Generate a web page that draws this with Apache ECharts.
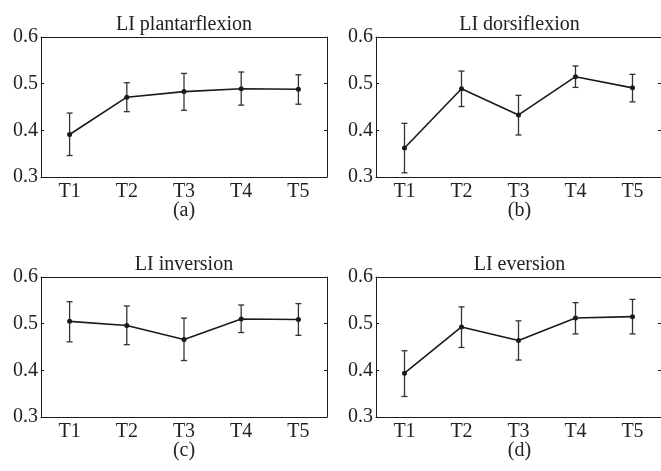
<!DOCTYPE html>
<html>
<head>
<meta charset="utf-8">
<script src="https://cdn.jsdelivr.net/npm/echarts@6/dist/echarts.min.js"></script>
<style>
    html, body { margin: 0; padding: 0; background: #fff; }
    #chart { width: 661px; height: 471px; }
</style>
</head>
<body>
<div id="chart"></div>
<script>
    // data
    const categories = ['T1', 'T2', 'T3', 'T4', 'T5'];
    const titles = ['LI plantarflexion', 'LI dorsiflexion', 'LI inversion', 'LI eversion'];
    const captions = ['(a)', '(b)', '(c)', '(d)'];

    const plantarMean = [0.391, 0.471, 0.483, 0.489, 0.488];
    const plantarLow = [0.346, 0.440, 0.443, 0.454, 0.456];
    const plantarHigh = [0.437, 0.502, 0.522, 0.525, 0.519];

    const dorsiMean = [0.362, 0.489, 0.433, 0.515, 0.491];
    const dorsiLow = [0.309, 0.451, 0.390, 0.492, 0.461];
    const dorsiHigh = [0.415, 0.527, 0.475, 0.538, 0.520];

    const inverMean = [0.505, 0.496, 0.466, 0.510, 0.509];
    const inverLow = [0.461, 0.455, 0.421, 0.481, 0.475];
    const inverHigh = [0.547, 0.538, 0.512, 0.540, 0.543];

    const everMean = [0.394, 0.493, 0.464, 0.512, 0.515];
    const everLow = [0.344, 0.449, 0.422, 0.478, 0.478];
    const everHigh = [0.442, 0.536, 0.506, 0.545, 0.552];

    const panels = [
        {mean: plantarMean, low: plantarLow, high: plantarHigh},
        {mean: dorsiMean, low: dorsiLow, high: dorsiHigh},
        {mean: inverMean, low: inverLow, high: inverHigh},
        {mean: everMean, low: everLow, high: everHigh}
    ];

    // layout of the four boxes
    const boxes = [
        {left: 41, top: 37, width: 286, height: 140},
        {left: 376, top: 37, width: 287, height: 140},
        {left: 41, top: 277, width: 286, height: 140},
        {left: 376, top: 277, width: 287, height: 140}
    ];

    const FONT = 'Liberation Serif';
    const INK = '#1a1a1a';

    const chart = echarts.init(document.getElementById('chart'));

    const grid = [], xAxis = [], yAxis = [], series = [], graphic = [];

    boxes.forEach(function (b, i) {
        grid.push({left: b.left, top: b.top, width: b.width, height: b.height, containLabel: false});

        // bottom + top x axes
        xAxis.push({
            type: 'category', gridIndex: i, data: categories, position: 'bottom',
            axisLine: {lineStyle: {color: INK, width: 1}},
            axisTick: {inside: true, length: 3, alignWithLabel: true, lineStyle: {color: INK}},
            axisLabel: {fontFamily: FONT, fontSize: 20, color: '#222', margin: 5}
        });
        xAxis.push({
            type: 'category', gridIndex: i, data: categories, position: 'top',
            axisLine: {lineStyle: {color: INK, width: 1}},
            axisTick: {inside: true, length: 3, alignWithLabel: true, lineStyle: {color: INK}},
            axisLabel: {show: false}
        });

        // left + right y axes
        yAxis.push({
            type: 'value', gridIndex: i, position: 'left', min: 0.3, max: 0.6, interval: 0.1,
            splitLine: {show: false},
            axisLine: {show: true, lineStyle: {color: INK, width: 1}},
            axisTick: {show: true, inside: true, length: 3, lineStyle: {color: INK}},
            axisLabel: {
                fontFamily: FONT, fontSize: 20, color: '#222', margin: 3,
                formatter: function (v) { return v.toFixed(1); }
            }
        });
        yAxis.push({
            type: 'value', gridIndex: i, position: 'right', min: 0.3, max: 0.6, interval: 0.1,
            splitLine: {show: false},
            axisLine: {show: true, lineStyle: {color: INK, width: 1}},
            axisTick: {show: true, inside: true, length: 3, lineStyle: {color: INK}},
            axisLabel: {show: false}
        });

        const p = panels[i];

        // error bars
        series.push({
            type: 'custom',
            xAxisIndex: i * 2,
            yAxisIndex: i * 2,
            data: categories.map(function (c, k) { return [k, p.low[k], p.high[k]]; }),
            encode: {x: 0, y: [1, 2]},
            z: 2,
            renderItem: function (params, api) {
                const lo = api.coord([api.value(0), api.value(1)]);
                const hi = api.coord([api.value(0), api.value(2)]);
                const w = 3;
                const st = {stroke: '#333', lineWidth: 1.3};
                return {
                    type: 'group',
                    children: [
                        {type: 'line', shape: {x1: lo[0], y1: lo[1], x2: hi[0], y2: hi[1]}, style: st},
                        {type: 'line', shape: {x1: lo[0] - w, y1: lo[1], x2: lo[0] + w, y2: lo[1]}, style: st},
                        {type: 'line', shape: {x1: hi[0] - w, y1: hi[1], x2: hi[0] + w, y2: hi[1]}, style: st}
                    ]
                };
            }
        });

        // mean line
        series.push({
            type: 'line',
            xAxisIndex: i * 2,
            yAxisIndex: i * 2,
            data: p.mean,
            symbol: 'circle',
            symbolSize: 5,
            z: 3,
            itemStyle: {color: INK},
            lineStyle: {color: INK, width: 1.6},
            animation: false
        });

        // panel title and caption
        const cx = b.left + b.width / 2;
        graphic.push({
            type: 'text', x: cx, y: b.top - 12,
            style: {text: titles[i], font: '20px "' + FONT + '"', fill: '#222', align: 'center', verticalAlign: 'middle'}
        });
        graphic.push({
            type: 'text', x: cx, y: b.top + b.height + 34,
            style: {text: captions[i], font: '20px "' + FONT + '"', fill: '#222', align: 'center', verticalAlign: 'middle'}
        });
    });

    chart.setOption({
        animation: false,
        backgroundColor: '#fff',
        grid: grid,
        xAxis: xAxis,
        yAxis: yAxis,
        series: series,
        graphic: graphic
    });
</script>
</body>
</html>
